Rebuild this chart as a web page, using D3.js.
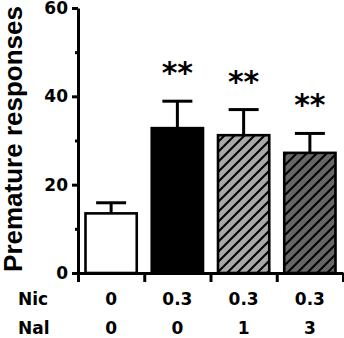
<!DOCTYPE html>
<html>
<head>
<meta charset="utf-8">
<script src="https://cdn.jsdelivr.net/npm/d3@7"></script>
<style>
  body { margin: 0; background: #fff; }
  svg { display: block; }
</style>
</head>
<body>
<svg id="chart" width="344" height="338"></svg>
<script>
// values
var groups = ["g1", "g2", "g3", "g4"];
var nicDose = ["0", "0.3", "0.3", "0.3"];
var nalDose = ["0", "0", "1", "3"];
var means = [13.5, 32.8, 31.2, 27.2];
var sems = [2.4, 6.1, 5.8, 4.4];
var stars = ["", "**", "**", "**"];
var yTicks = [0, 20, 40, 60];
var yMinor = [10, 30, 50];

function drawChart() {
  var svg = d3.select("#chart"),
    left = 78,
    right = 343,
    top = 8,
    bottom = 273,
    inset = 7.5;

  var fills = ["#ffffff", "#000000", "url(#hatchLight)", "url(#hatchDark)"];

  var x = d3.scaleBand().domain(groups).range([left, right]).padding(0);
  var xEdge = d3.scaleLinear().domain([0, groups.length]).range([left, right]);
  var y = d3.scaleLinear().domain([0, 60]).range([bottom, top]);

  // hatch patterns
  var defs = svg.append("defs");
  [["hatchLight", "#a8a8a8"], ["hatchDark", "#666666"]].forEach(function (p) {
    var pat = defs.append("pattern")
      .attr("id", p[0])
      .attr("patternUnits", "userSpaceOnUse")
      .attr("width", 10)
      .attr("height", 10);
    pat.append("rect").attr("width", 10).attr("height", 10).attr("fill", p[1]);
    pat.append("path")
      .attr("d", "M0,10 L10,0 M-2.5,2.5 L2.5,-2.5 M7.5,12.5 L12.5,7.5")
      .attr("stroke", "#000")
      .attr("stroke-width", 2.1);
  });

  var data = groups.map(function (g, i) {
    return { id: g, mean: means[i], sem: sems[i], star: stars[i], fill: fills[i] };
  });

  // error bars (drawn first, bar covers the lower part)
  var err = svg.append("g").attr("stroke", "#000").attr("stroke-width", 3);
  err.selectAll("line.v")
    .data(data)
    .enter()
    .append("line")
    .attr("x1", function (d) { return x(d.id) + x.bandwidth() / 2; })
    .attr("x2", function (d) { return x(d.id) + x.bandwidth() / 2; })
    .attr("y1", function (d) { return y(d.mean); })
    .attr("y2", function (d) { return y(d.mean + d.sem); });
  err.selectAll("line.cap")
    .data(data)
    .enter()
    .append("line")
    .attr("x1", function (d) { return x(d.id) + x.bandwidth() / 2 - 15; })
    .attr("x2", function (d) { return x(d.id) + x.bandwidth() / 2 + 15; })
    .attr("y1", function (d) { return y(d.mean + d.sem); })
    .attr("y2", function (d) { return y(d.mean + d.sem); });

  svg.append("g")
    .selectAll("rect")
    .data(data)
    .enter()
    .append("rect")
    .attr("x", function (d) { return x(d.id) + inset; })
    .attr("y", function (d) { return y(d.mean); })
    .attr("width", x.bandwidth() - 2 * inset)
    .attr("height", function (d) { return y(0) - y(d.mean); })
    .attr("fill", function (d) { return d.fill; })
    .attr("stroke", "#000")
    .attr("stroke-width", 2.6);

  // significance stars
  svg.append("g")
    .selectAll("text")
    .data(data)
    .enter()
    .append("text")
    .attr("x", function (d) { return x(d.id) + x.bandwidth() / 2; })
    .attr("y", function (d) { return y(d.mean + d.sem) - 18; })
    .attr("text-anchor", "middle")
    .attr("font-family", "'DejaVu Sans', sans-serif")
    .attr("font-weight", "bold")
    .attr("font-size", 30)
    .text(function (d) { return d.star; });

  // y axis
  var yAxis = svg.append("g")
    .attr("transform", "translate(" + left + ",0)")
    .call(d3.axisLeft(y).tickValues(yTicks).tickSize(6).tickSizeOuter(0).tickPadding(4));
  svg.append("g")
    .attr("transform", "translate(" + left + ",0)")
    .call(d3.axisLeft(y).tickValues(yMinor).tickSize(3).tickFormat(""))
    .call(function (g) { g.select(".domain").remove(); });

  // x axis: ticks at the group edges
  svg.append("g")
    .attr("transform", "translate(0," + bottom + ")")
    .call(d3.axisBottom(xEdge).tickValues(d3.range(groups.length + 1)).tickSize(9).tickSizeOuter(0).tickFormat(""));

  svg.selectAll(".domain, .tick line")
    .attr("stroke", "#000")
    .attr("stroke-width", 3);

  yAxis.selectAll("text")
    .attr("font-family", "'DejaVu Sans', sans-serif")
    .attr("font-weight", "bold")
    .attr("font-size", 17)
    .attr("fill", "#000");

  // y label
  svg.append("text")
    .attr("transform", "translate(22,139) rotate(-90)")
    .attr("text-anchor", "middle")
    .attr("font-family", "'Liberation Sans', Arial, sans-serif")
    .attr("font-weight", "bold")
    .attr("font-size", 26)
    .text("Premature responses");

  // dose rows under the axis
  var rows = [["Nic", nicDose, 305], ["Nal", nalDose, 334]];
  rows.forEach(function (r) {
    var row = svg.append("g")
      .attr("font-family", "'DejaVu Sans', sans-serif")
      .attr("font-weight", "bold")
      .attr("font-size", 17);
    row.append("text").attr("x", 18).attr("y", r[2]).text(r[0]);
    row.selectAll("text.v")
      .data(r[1])
      .enter()
      .append("text")
      .attr("x", function (d, i) { return x(groups[i]) + x.bandwidth() / 2; })
      .attr("y", r[2])
      .attr("text-anchor", "middle")
      .text(function (d) { return d; });
  });
}

drawChart();
</script>
</body>
</html>
